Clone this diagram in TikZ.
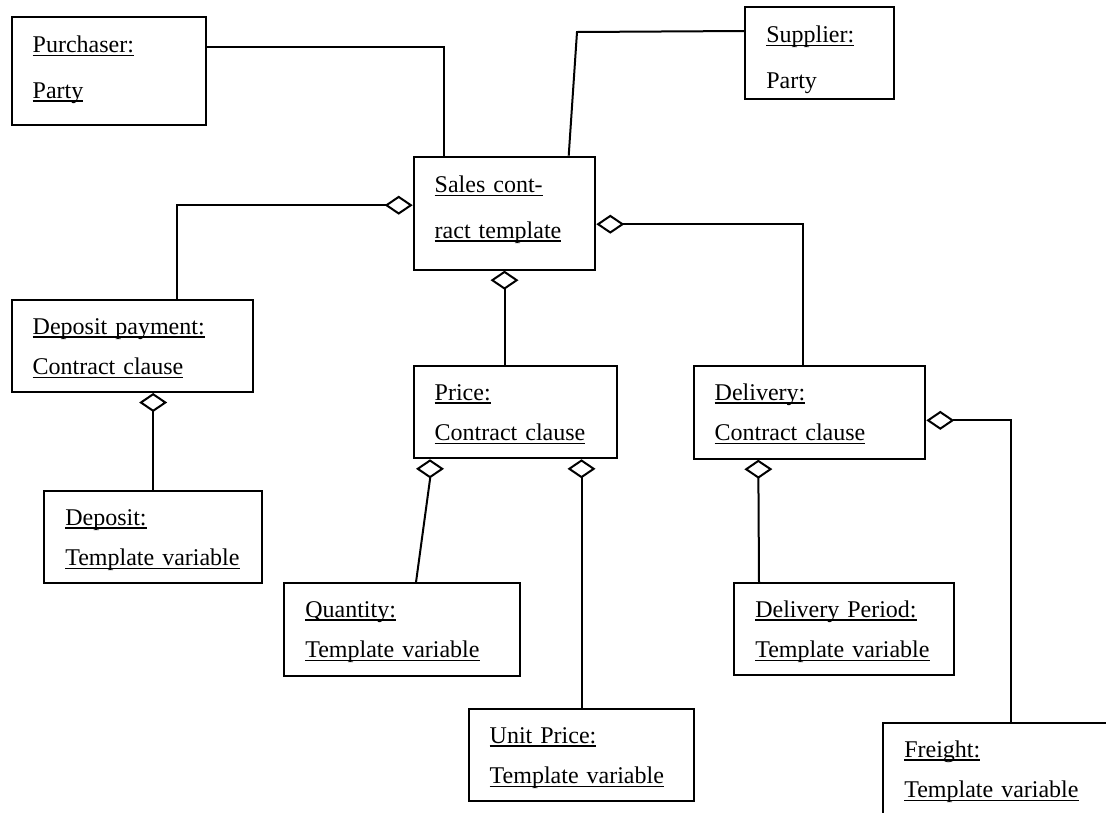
\documentclass[tikz,border=0pt]{standalone}
\usepackage{fontspec}
\setmainfont{Liberation Serif}
\usetikzlibrary{arrows.meta}
\newcommand{\undl}[1]{\leavevmode\setbox0=\hbox{#1}\rlap{\rule[-3.5pt]{\wd0}{1.4pt}}\box0}

\begin{document}
\begin{tikzpicture}[
    x=1pt, y=-1pt,
    obj/.style={draw, line width=2pt, rectangle, anchor=north west,
      align=left, inner xsep=21pt, inner ysep=0pt,
      font=\fontsize{24pt}{40.5pt}\selectfont,
      text height=34pt, text depth=58pt},
    topobj/.style={obj, font=\fontsize{24pt}{45.5pt}\selectfont, text height=36pt},
    link/.style={line width=2pt},
    aggh/.style={link, {Diamond[open, length=28pt, width=19pt]}-},
    aggv/.style={link, {Diamond[open, length=19pt, width=28pt]}-}
  ]
  \clip (0,0) rectangle (1106,812);

  % Parties and the template
  \node[topobj, text width=152pt, text depth=72pt] (purchaser) at (10.7,15.7)
    {\undl{Purchaser:}\\\undl{Party}};
  \node[topobj, text width=107pt, text depth=56.6pt] (supplier) at (744.3,5.7)
    {\undl{Supplier:}\\Party};
  \node[topobj, text width=139.6pt, text depth=77pt] (sales) at (412.7,155.7)
    {\undl{Sales cont-}\\\undl{ract template}};

  % Contract clauses
  \node[obj, text width=199pt] (deppay) at (10.7,299)
    {\undl{Deposit payment:}\\\undl{Contract clause}};
  \node[obj, text width=161.3pt] (price) at (412.7,365.3)
    {\undl{Price:}\\\undl{Contract clause}};
  \node[obj, text width=189.6pt, text depth=58.7pt] (delivery) at (692.7,365)
    {\undl{Delivery:}\\\undl{Contract clause}};

  % Template variables
  \node[obj, text width=175.7pt, text depth=58.3pt] (deposit) at (43.3,490)
    {\undl{Deposit:}\\\undl{Template variable}};
  \node[obj, text width=193.7pt, text depth=59pt] (quantity) at (283.3,582.3)
    {\undl{Quantity:}\\\undl{Template variable}};
  \node[obj, text width=178pt, text depth=57.7pt] (period) at (733.3,582.3)
    {\undl{Delivery Period:}\\\undl{Template variable}};
  \node[obj, text width=183.6pt, text depth=57.7pt] (unitprice) at (467.7,708.3)
    {\undl{Unit Price:}\\\undl{Template variable}};
  \node[obj, text width=208pt, text depth=86pt] (freight) at (882.3,722.3)
    {\undl{Freight:}\\\undl{Template variable}};

  % Associations
  \coordinate (sbend) at (577,32);
  \draw[link] ([yshift=24pt]purchaser.east) -| ([xshift=31.3pt]sales.north west);
  \draw[link] ([yshift=22pt]supplier.west) -- (sbend) -- ([xshift=-27.6pt]sales.north east);

  % Aggregations
  \draw[aggh] ([yshift=8pt]sales.west) -| ([xshift=166.6pt]deppay.north west);
  \draw[aggh] ([yshift=-11pt]sales.east) -| ([xshift=110pt]delivery.north west);
  \draw[aggv] (sales.south) -- (sales.south |- price.north);
  \draw[aggv] (deposit.north |- deppay.south) -- (deposit.north);
  \draw[aggv] ([xshift=17.3pt]price.south west) -- ++(0,20) -- ([xshift=132.7pt]quantity.north west);
  \draw[aggv] (unitprice.north |- price.south) -- (unitprice.north);
  \draw[aggv] ([xshift=65.6pt]delivery.south west) -- ([xshift=25.7pt]period.north west);
  \draw[aggh] ([yshift=-8pt]delivery.east) -| ([xshift=128.7pt]freight.north west);
\end{tikzpicture}
\end{document}
